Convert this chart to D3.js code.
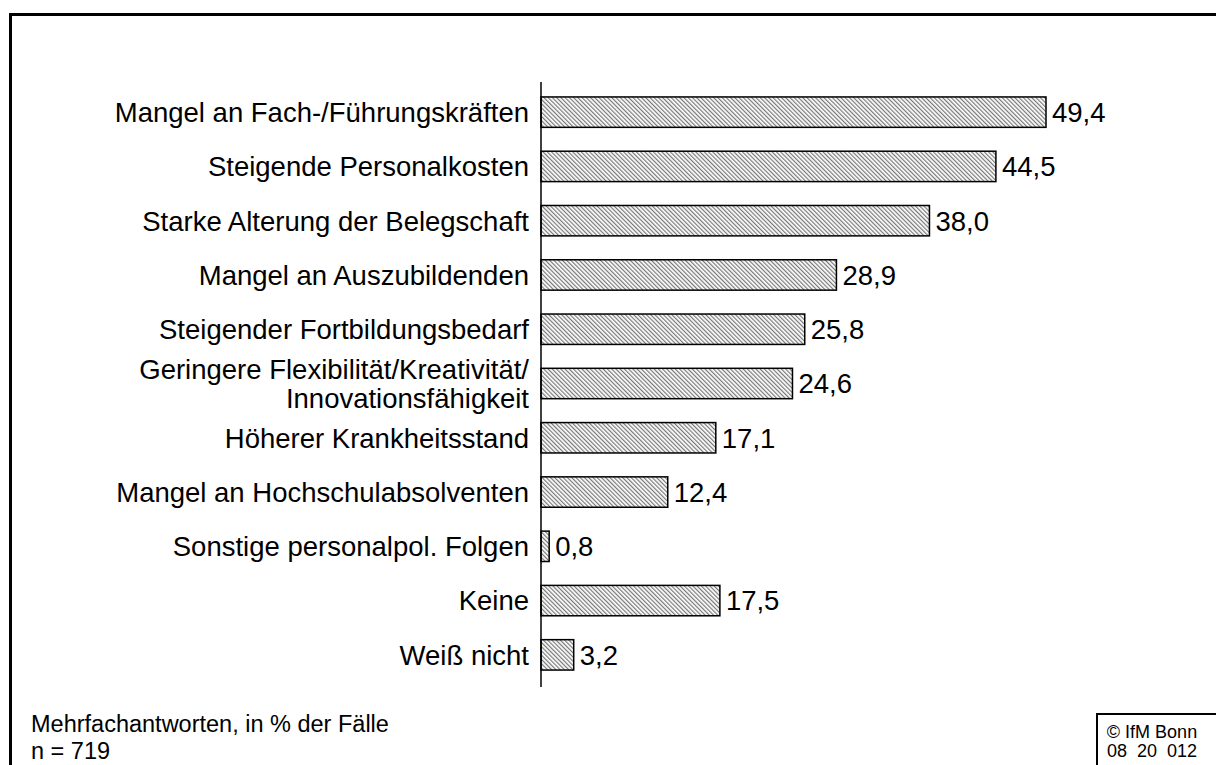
<!DOCTYPE html>
<html><head><meta charset="utf-8">
<script src="https://cdn.jsdelivr.net/npm/d3@7"></script>
<style>body{margin:0;background:#fff}svg{display:block}</style>
</head><body>
<svg id="c" width="1216" height="765"></svg>
<script>
const categories = [
  ["Mangel an Fach-/Führungskräften"],
  ["Steigende Personalkosten"],
  ["Starke Alterung der Belegschaft"],
  ["Mangel an Auszubildenden"],
  ["Steigender Fortbildungsbedarf"],
  ["Geringere Flexibilität/Kreativität/", "Innovationsfähigkeit"],
  ["Höherer Krankheitsstand"],
  ["Mangel an Hochschulabsolventen"],
  ["Sonstige personalpol. Folgen"],
  ["Keine"],
  ["Weiß nicht"]
];
const values = [49.4, 44.5, 38.0, 28.9, 25.8, 24.6, 17.1, 12.4, 0.8, 17.5, 3.2];
const valueLabels = ["49,4","44,5","38,0","28,9","25,8","24,6","17,1","12,4","0,8","17,5","3,2"];
const footnotes = ["Mehrfachantworten, in % der Fälle", "n = 719"];
const copyright = ["© IfM Bonn", "08  20  012"];

const svg = d3.select("#c");
const font = "Liberation Sans, Arial, sans-serif";

// frame
svg.append("path").attr("d","M10.5,1000 V14.5 H1300").attr("fill","none").attr("stroke","#000").attr("stroke-width",3);
svg.append("path").attr("d","M1097,1000 V714 H1300").attr("fill","none").attr("stroke","#000").attr("stroke-width",2);

// pattern
const defs = svg.append("defs");
const pat = defs.append("pattern").attr("id","hatch").attr("patternUnits","userSpaceOnUse")
  .attr("width",3).attr("height",3).attr("patternTransform","rotate(-45)");
pat.append("rect").attr("width",3).attr("height",3).attr("fill","#fff");
pat.append("rect").attr("x",0).attr("y",0).attr("width",1.2).attr("height",3).attr("fill","#777");

const x0 = 541;
const x = d3.scaleLinear().domain([0, 49.4]).range([x0, 1046]);
const y = d3.scaleBand().domain(d3.range(categories.length)).range([85, 682]).paddingInner(0.44).paddingOuter(0.22);

const g = svg.append("g");
g.selectAll("rect.bar").data(values).join("rect").attr("class","bar")
  .attr("x", x(0)).attr("y",(d,i)=>y(i)).attr("width", d=>x(d)-x(0)).attr("height", y.bandwidth())
  .attr("fill","url(#hatch)").attr("stroke","#000").attr("stroke-width",1.5);

g.selectAll("text.val").data(values).join("text").attr("class","val")
  .attr("x", d=>x(d)+6).attr("y",(d,i)=>y(i)+y.bandwidth()/2).attr("dy","0.36em")
  .attr("font-family",font).attr("font-size",27.5).text((d,i)=>valueLabels[i]);

const lab = g.selectAll("text.lab").data(categories).join("text").attr("class","lab")
  .attr("text-anchor","end").attr("font-family",font).attr("font-size",27.5);
lab.each(function(lines,i){
  const t = d3.select(this);
  const cy = y(i)+y.bandwidth()/2;
  const lh = 29;
  lines.forEach((l,j)=>{
    t.append("tspan").attr("x",529).attr("y", cy + (j-(lines.length-1)/2)*lh).attr("dy","0.36em").text(l);
  });
});

// axis
svg.append("line").attr("x1",x0).attr("x2",x0).attr("y1",82).attr("y2",687).attr("stroke","#000").attr("stroke-width",1.5);

svg.selectAll("text.fn").data(footnotes).join("text").attr("class","fn")
  .attr("x",31).attr("y",(d,i)=>732+i*27).attr("font-family",font).attr("font-size",23.5).text(d=>d);
svg.selectAll("text.cp").data(copyright).join("text").attr("class","cp")
  .attr("x",1152).attr("y",(d,i)=>738+i*19).attr("text-anchor","middle").attr("font-family",font)
  .attr("font-size",18).style("white-space","pre").text(d=>d);
</script>
</body></html>
